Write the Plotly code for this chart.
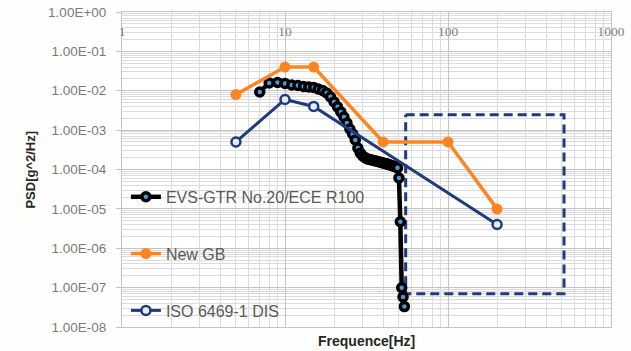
import plotly.graph_objects as go

# EVS-GTR No.20 / ECE R100 profile (1 Hz steps)
evs_freq = [7, 8, 9, 10, 11, 12, 13, 14, 15, 16, 17, 18, 19, 20, 21, 22, 23, 24,
            25, 26, 27, 28, 29, 30, 31, 32, 33, 34, 35, 36, 37, 38, 39, 40, 41,
            42, 43, 44, 45, 46, 47, 48, 49, 50, 51, 52, 53, 54]
evs_psd = [9.3e-3, 1.58e-2, 1.62e-2, 1.53e-2, 1.40e-2, 1.36e-2, 1.29e-2, 1.25e-2,
           1.21e-2, 1.11e-2, 1.02e-2, 8.8e-3, 7.0e-3, 5.2e-3, 3.9e-3, 2.9e-3,
           2.16e-3, 1.52e-3, 1.07e-3, 8.0e-4, 5.6e-4, 3.5e-4, 2.6e-4, 2.2e-4,
           2.0e-4, 1.86e-4, 1.8e-4, 1.75e-4, 1.7e-4, 1.65e-4, 1.6e-4, 1.56e-4,
           1.51e-4, 1.47e-4, 1.43e-4, 1.39e-4, 1.35e-4, 1.31e-4, 1.27e-4,
           1.23e-4, 1.19e-4, 1.16e-4, 1.10e-4, 6.1e-5, 4.7e-6, 9.9e-8, 5.8e-8,
           3.3e-8]

# New GB profile
gb_freq = [5, 10, 15, 40, 100, 200]
gb_psd = [8e-3, 4e-2, 4e-2, 5e-4, 5e-4, 1e-5]

# ISO 6469-1 DIS profile
iso_freq = [5, 10, 15, 200]
iso_psd = [5e-4, 6e-3, 4e-3, 4e-6]

# Dashed envelope box
box_freq = [55, 515, 515, 55, 55]
box_psd = [2.45e-3, 2.45e-3, 7e-8, 7e-8, 2.45e-3]

x_tick_vals = [1, 10, 100, 1000]
x_tick_text = ["1", "10", "100", "1000"]
y_tick_vals = [1e0, 1e-1, 1e-2, 1e-3, 1e-4, 1e-5, 1e-6, 1e-7, 1e-8]
y_tick_text = ["1.00E+00", "1.00E-01", "1.00E-02", "1.00E-03", "1.00E-04",
               "1.00E-05", "1.00E-06", "1.00E-07", "1.00E-08"]

NAVY = "#1F3B7C"
ORANGE = "#FF8424"
GRID_MINOR = "#DCDCDC"
GRID_MAJOR = "#C4C4C4"

fig = go.Figure()

fig.add_trace(go.Scatter(
    x=box_freq, y=box_psd, mode="lines", showlegend=False, hoverinfo="skip",
    line=dict(color=NAVY, width=3, dash="9px,5px"),
))

fig.add_trace(go.Scatter(
    x=evs_freq, y=evs_psd, mode="lines+markers", name="EVS-GTR No.20/ECE R100",
    legendgroup="evs",
    line=dict(color="#000000", width=4.5),
    marker=dict(symbol="circle", size=8, color="#4A9AD8",
                line=dict(color="#000000", width=3.5)),
))

fig.add_trace(go.Scatter(
    x=gb_freq, y=gb_psd, mode="lines+markers", name="New GB",
    legendgroup="gb",
    line=dict(color=ORANGE, width=3.5),
    marker=dict(symbol="circle", size=11, color=ORANGE),
))

fig.add_trace(go.Scatter(
    x=iso_freq, y=iso_psd, mode="lines+markers", name="ISO 6469-1 DIS",
    legendgroup="iso",
    line=dict(color=NAVY, width=3),
    marker=dict(symbol="circle", size=9, color="#E6EDF7",
                line=dict(color=NAVY, width=2.5)),
))

minor_x = [m * 10 ** d for d in range(0, 3) for m in range(2, 10)]
minor_y = [m * 10.0 ** d for d in range(-8, 0) for m in range(2, 10)]

fig.update_xaxes(
    type="log", range=[0, 3], side="top", automargin=False,
    tickvals=x_tick_vals, ticktext=x_tick_text,
    ticklabelposition="inside", ticklabeloverflow="allow",
    ticklabelstandoff=14,
    ticks="", showgrid=True, gridcolor=GRID_MAJOR, gridwidth=1,
    minor=dict(tickvals=minor_x, showgrid=True, gridcolor=GRID_MINOR, ticks=""),
    showline=True, linecolor=GRID_MAJOR, linewidth=1, mirror=True,
    tickfont=dict(family="Liberation Serif", size=13.5, color="#7F7F7F"),
    zeroline=False,
)

fig.update_yaxes(
    type="log", range=[-8, 0], automargin=False,
    tickvals=y_tick_vals, ticktext=y_tick_text,
    ticks="outside", ticklen=5, tickcolor=GRID_MAJOR,
    ticklabelstandoff=7,
    showgrid=True, gridcolor=GRID_MAJOR, gridwidth=1,
    minor=dict(tickvals=minor_y, showgrid=True, gridcolor=GRID_MINOR, ticks=""),
    showline=True, linecolor=GRID_MAJOR, linewidth=1, mirror=True,
    tickfont=dict(family="Liberation Sans", size=13.5, color="#7A7A7A"),
    zeroline=False,
)

fig.add_annotation(
    text="<b>PSD[g^2/Hz]</b>", xref="paper", yref="paper",
    x=-0.188, y=0.5, xanchor="center", yanchor="middle", textangle=-90,
    showarrow=False, font=dict(family="Liberation Sans", size=13, color="#262626"),
)
fig.add_annotation(
    text="<b>Frequence[Hz]</b>", xref="paper", yref="paper",
    x=0.5, y=-0.044, xanchor="center", yanchor="middle",
    showarrow=False, font=dict(family="Liberation Sans", size=14, color="#262626"),
)

fig.update_layout(
    width=631, height=351,
    margin=dict(l=122, r=20, t=12, b=24, autoexpand=False),
    paper_bgcolor="#FEFEFC", plot_bgcolor="#FFFFFF",
    showlegend=True,
    legend=dict(
        x=0.008, y=0.467, xanchor="left", yanchor="top",
        bgcolor="rgba(0,0,0,0)", borderwidth=0,
        tracegroupgap=33,
        font=dict(family="Liberation Sans", size=16, color="#595959"),
    ),
)

fig.write_html("out.html")
